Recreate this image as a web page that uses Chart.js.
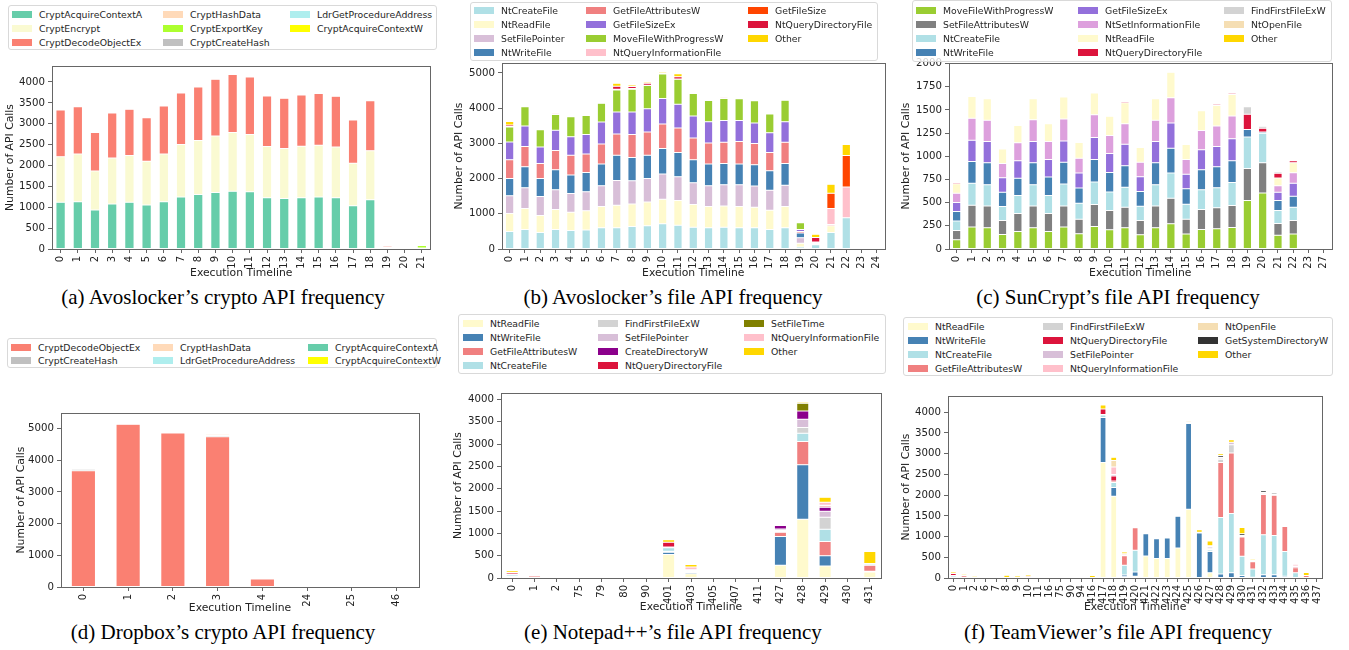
<!DOCTYPE html>
<html lang="en">
<head>
<meta charset="UTF-8">
<title>API call frequency over execution timeline</title>
<style>
  body { margin: 0; width: 1349px; height: 650px; background: #fff; position: relative; overflow: hidden; font-family: "DejaVu Sans", sans-serif; }
  canvas { position: absolute; }
  .legend { position: absolute; box-sizing: border-box; border: 1px solid #d9d9d9; border-radius: 3px; background: rgba(255,255,255,0.8); z-index: 2; }
  .item { position: absolute; height: 14px; display: flex; align-items: center; font-size: 9.3px; color: #262626; white-space: nowrap; }
  .swatch { width: 20px; height: 7px; margin-right: 7px; flex: none; }
  .caption { position: absolute; width: 440px; text-align: center; font-family: "Liberation Serif", serif; font-size: 21px; line-height: 24px; color: #000; white-space: nowrap; }
</style>
<script src="https://cdn.jsdelivr.net/npm/chart.js"></script>
</head>
<body>
<script>
// (a) Avoslocker crypto
const aCategories = ['0','1','2','3','4','5','6','7','8','9','10','11','12','13','14','15','16','17','18','19','20','21'];
const aTicks = [0,500,1000,1500,2000,2500,3000,3500,4000];
const aAcquireA  = [1117,1133,935,1077,1117,1053,1133,1244,1307,1354,1386,1370,1228,1212,1228,1244,1228,1038,1180,35,5,15];
const aEncrypt   = [1093,1140,934,1101,1125,1046,1140,1259,1291,1355,1402,1371,1227,1196,1235,1243,1212,1013,1172,10,0,0];
const aDecode    = [1117,1133,919,1077,1108,1046,1149,1236,1283,1354,1394,1379,1212,1204,1228,1236,1219,1038,1196,30,0,0];
const aHashData  = [0,0,0,0,0,0,0,0,0,0,0,0,0,0,0,0,0,0,0,25,0,10];
const aExportKey = [0,0,0,0,0,0,0,0,0,0,0,0,0,0,0,0,0,0,0,10,0,60];
const aCreateHash= [0,0,0,0,0,0,0,0,0,0,0,0,0,0,0,0,0,0,0,10,0,20];
const aLdr       = [0,0,0,0,0,0,0,0,0,0,0,0,0,0,0,0,0,0,0,5,25,0];
const aAcquireW  = [0,0,0,0,0,0,0,0,0,0,0,0,0,0,0,0,0,0,0,0,0,5];

// (b) Avoslocker file
const bCategories = ['0','1','2','3','4','5','6','7','8','9','10','11','12','13','14','15','16','17','18','19','20','21','22','23','24'];
const bTicks = [0,1000,2000,3000,4000,5000];
const bCreate    = [499,556,471,556,527,537,603,603,640,659,716,678,621,603,621,603,603,556,603,56,120,471,885,0,0];
const bRead      = [509,593,480,565,518,546,602,640,641,678,696,697,641,602,603,602,583,546,602,104,15,188,0,0,0];
const bSetFP     = [508,593,537,565,528,546,593,706,659,669,716,678,621,593,603,622,603,565,603,160,15,0,0,0,0];
const bWrite     = [490,593,518,564,527,546,613,716,659,659,725,687,650,613,602,584,603,555,621,132,20,0,0,0,0];
const bGetAttr   = [527,575,423,547,565,527,574,602,650,659,697,697,621,602,603,640,602,518,603,48,10,38,0,0,0];
const bSizeEx    = [508,583,471,574,527,547,621,622,640,659,725,678,622,603,621,602,584,565,584,56,10,0,0,0,0];
const bMove      = [424,547,490,452,565,546,537,631,650,659,697,706,640,602,622,612,631,527,612,188,0,0,0,0,0];
const bQueryInfo = [15,20,15,30,15,25,15,19,19,10,10,10,15,19,38,19,19,28,15,0,10,452,876,0,0];
const bGetSize   = [0,0,0,0,0,0,0,0,0,0,0,0,0,0,0,0,0,0,0,0,0,433,895,0,0];
const bQueryDir  = [45,15,13,15,13,12,13,84,56,56,10,65,30,0,0,0,0,0,13,10,130,0,0,0,0];
const bOther     = [95,0,0,0,0,0,0,85,47,38,36,85,20,0,0,0,0,0,0,10,90,254,310,0,0];

// (c) SunCrypt file
const cCategories = ['0','1','2','3','4','5','6','7','8','9','10','11','12','13','14','15','16','17','18','19','20','21','22','23','27'];
const cTicks = [0,250,500,750,1000,1250,1500,1750,2000];
const cMove      = [100,236,229,157,190,229,190,236,165,243,208,229,154,229,272,161,211,218,233,522,605,147,161,0,0];
const cSetAttr   = [100,236,236,151,193,236,193,229,157,236,207,222,154,236,275,161,215,226,236,347,325,128,147,0,0];
const cCreate    = [101,236,229,150,193,229,193,236,172,244,200,214,154,229,272,161,214,218,247,340,319,140,143,0,0];
const cWrite     = [103,237,236,154,186,236,200,236,164,243,211,233,157,236,269,168,215,225,236,79,14,107,118,0,0];
const cSizeEx    = [97,229,229,157,190,229,190,229,161,236,204,233,161,229,272,154,215,219,236,0,0,90,139,8,0];
const cSetInfo   = [100,236,229,154,193,236,193,236,161,247,194,221,157,229,271,161,207,221,247,0,0,71,115,0,8];
const cRead      = [104,236,233,157,186,226,193,237,168,233,207,226,158,233,276,161,215,222,232,0,0,83,107,0,0];
const cQueryDir  = [12,10,10,0,11,10,11,10,11,10,11,12,7,10,11,10,11,12,12,165,39,50,22,0,7];
const cFindFirst = [0,0,0,0,0,0,0,0,0,0,0,0,0,0,0,0,0,0,0,82,22,18,0,0,0];
const cOpenFile  = [8,0,0,0,0,0,0,0,0,0,0,0,0,0,0,0,0,0,0,0,0,0,0,0,0];
const cOther     = [10,0,0,0,0,0,0,0,0,0,0,0,0,0,0,0,0,0,0,0,0,0,5,0,0];

// (d) Dropbox crypto
const dCategories = ['0','1','2','3','4','24','25','46'];
const dTicks = [0,1000,2000,3000,4000,5000];
const dDecode     = [3670,5140,4860,4740,250,0,5,0];
const dCreateHash = [50,30,10,40,10,0,0,0];
const dHashData   = [20,20,10,40,0,0,0,0];
const dLdr        = [20,25,10,30,0,0,0,0];
const dAcquireA   = [0,15,25,20,0,0,0,0];
const dAcquireW   = [30,0,0,0,0,0,15,0];

// (e) Notepad++ file
const eCategories = ['0','1','2','75','79','80','90','401','403','405','407','411','427','428','429','430','431'];
const eTicks = [0,500,1000,1500,2000,2500,3000,3500,4000];
const eRead       = [10,0,5,0,0,0,0,528,95,0,0,0,283,1316,268,0,134];
const eWrite      = [5,0,0,0,0,0,0,50,30,0,0,0,646,1219,230,0,15];
const eGetAttr    = [20,45,0,0,10,0,0,20,15,0,0,10,97,521,320,0,134];
const eCreate     = [30,0,0,0,0,0,0,80,20,0,0,0,15,186,275,0,30];
const eFindFirst  = [0,0,0,0,0,0,0,0,0,0,0,0,20,126,268,0,0];
const eSetFP      = [10,0,0,0,0,0,0,15,25,0,0,0,39,186,133,0,10];
const eCreateDir  = [10,0,0,0,10,0,0,0,0,0,0,0,75,186,90,0,0];
const eQueryDir   = [30,5,0,0,5,0,0,110,0,0,0,0,0,0,29,0,0];
const eSetFileTime= [0,0,0,0,0,0,0,0,0,0,0,0,25,171,15,0,0];
const eQueryInfo  = [15,10,0,0,0,0,0,0,60,15,0,5,5,0,67,0,0];
const eOther      = [40,0,15,0,0,0,0,52,55,0,0,0,5,30,112,0,272];

// (f) TeamViewer file
const fCategories = ['0','1','2','6','7','8','9','10','11','16','75','90','94','416','417','418','419','420','421','422','423','424','425','426','427','428','429','430','431','432','433','434','435','436','437'];
const fTicks = [0,500,1000,1500,2000,2500,3000,3500,4000];
const fRead       = [0,0,0,0,0,15,10,0,0,0,0,0,0,10,2790,1976,30,45,534,470,470,725,1657,0,127,0,0,0,0,0,0,0,0,0,0];
const fWrite      = [0,0,0,0,0,0,0,0,0,0,0,0,0,0,1083,207,40,100,534,478,494,765,2070,1084,510,96,127,60,20,80,80,40,15,0,0];
const fCreate     = [50,20,15,0,10,0,0,10,0,0,0,0,0,0,60,120,240,525,7,0,0,0,15,20,40,1362,1427,466,195,964,948,600,110,10,0];
const fGetAttr    = [10,40,0,15,0,0,0,30,20,0,0,0,0,0,15,40,225,540,0,0,0,0,0,0,10,1331,1466,462,175,972,972,605,125,50,0];
const fFindFirst  = [0,0,0,0,0,0,0,0,0,0,0,0,0,0,0,0,0,10,0,0,0,0,15,0,30,80,199,0,0,0,0,0,0,0,0];
const fQueryDir   = [50,10,0,10,0,0,0,0,15,0,0,0,0,0,130,119,0,0,0,0,0,0,0,0,0,0,0,0,0,0,0,0,30,0,0];
const fSetFP      = [0,0,0,0,0,0,0,0,0,0,0,0,0,0,0,35,20,20,0,0,0,0,0,0,40,25,56,20,15,20,15,10,10,0,0];
const fQueryInfo  = [10,10,0,0,0,0,0,0,0,0,0,0,0,0,0,180,30,10,0,0,0,0,0,0,20,20,0,20,20,25,15,10,40,0,0];
const fOpenFile   = [0,0,0,0,0,0,0,0,0,0,0,0,0,0,0,160,0,10,0,0,0,0,30,0,0,0,0,0,0,0,0,0,0,0,0];
const fGetSysDir  = [0,0,0,0,0,0,0,0,0,0,0,0,0,0,0,0,0,5,0,0,0,0,0,0,0,45,0,40,0,45,25,20,15,0,0];
const fOther      = [35,30,30,0,0,50,40,40,25,0,0,0,15,50,95,80,40,5,7,0,0,0,5,60,115,40,64,150,25,0,0,0,5,70,0];

Chart.defaults.font.family = 'DejaVu Sans';
Chart.defaults.color = '#222';

const panels = [
  { rect: [52, 65, 431, 249], yW: 52, xH: 31, yMax: 4380, ticks: aTicks, cats: aCategories,
    series: [['CryptAcquireContextA', aAcquireA, '#66cdaa'], ['CryptEncrypt', aEncrypt, '#fafad2'], ['CryptDecodeObjectEx', aDecode, '#fa8072'],
             ['CryptHashData', aHashData, '#ffdab9'], ['CryptExportKey', aExportKey, '#adff2f'], ['CryptCreateHash', aCreateHash, '#c0c0c0'],
             ['LdrGetProcedureAddress', aLdr, '#afeeee'], ['CryptAcquireContextW', aAcquireW, '#ffff00']],
    legend: { box: [8, 5, 429, 45], rows: 3, cols: [3, 154, 281], y0: 8, dy: 14 },
    caption: ['(a) Avoslocker’s crypto API frequency', 223, 285] },
  { rect: [502, 62, 886, 249], yW: 53, xH: 31, yMax: 5280, ticks: bTicks, cats: bCategories,
    series: [['NtCreateFile', bCreate, '#b0e0e6'], ['NtReadFile', bRead, '#fffacd'], ['SetFilePointer', bSetFP, '#d8bfd8'], ['NtWriteFile', bWrite, '#4682b4'],
             ['GetFileAttributesW', bGetAttr, '#f08080'], ['GetFileSizeEx', bSizeEx, '#9370db'], ['MoveFileWithProgressW', bMove, '#9acd32'], ['NtQueryInformationFile', bQueryInfo, '#ffc0cb'],
             ['GetFileSize', bGetSize, '#ff4500'], ['NtQueryDirectoryFile', bQueryDir, '#dc143c'], ['Other', bOther, '#ffd700']],
    legend: { box: [470, 2, 408, 59], rows: 4, cols: [3, 115, 277], y0: 7, dy: 14.3 },
    caption: ['(b) Avoslocker’s file API frequency', 673, 285] },
  { rect: [949, 62, 1333, 249], yW: 53, xH: 31, yMax: 2005, ticks: cTicks, cats: cCategories,
    series: [['MoveFileWithProgressW', cMove, '#9acd32'], ['SetFileAttributesW', cSetAttr, '#808080'], ['NtCreateFile', cCreate, '#b0e0e6'], ['NtWriteFile', cWrite, '#4682b4'],
             ['GetFileSizeEx', cSizeEx, '#9370db'], ['NtSetInformationFile', cSetInfo, '#dda0dd'], ['NtReadFile', cRead, '#fffacd'], ['NtQueryDirectoryFile', cQueryDir, '#dc143c'],
             ['FindFirstFileExW', cFindFirst, '#d3d3d3'], ['NtOpenFile', cOpenFile, '#f5deb3'], ['Other', cOther, '#ffd700']],
    legend: { box: [912, 0, 420, 62], rows: 4, cols: [3, 165, 311], y0: 9, dy: 14.3 },
    caption: ['(c) SunCrypt’s file API frequency', 1118, 285] },
  { rect: [61, 412, 419, 587], yW: 50, xH: 28, yMax: 5490, ticks: dTicks, cats: dCategories,
    series: [['CryptDecodeObjectEx', dDecode, '#fa8072'], ['CryptCreateHash', dCreateHash, '#c0c0c0'], ['CryptHashData', dHashData, '#ffdab9'],
             ['LdrGetProcedureAddress', dLdr, '#afeeee'], ['CryptAcquireContextA', dAcquireA, '#66cdaa'], ['CryptAcquireContextW', dAcquireW, '#ffff00']],
    legend: { box: [7, 338, 430, 30], rows: 2, cols: [3, 145, 300], y0: 8, dy: 13.3 },
    caption: ['(d) Dropbox’s crypto API frequency', 223, 620] },
  { rect: [501, 392, 881, 578], yW: 53, xH: 36, yMax: 4140, ticks: eTicks, cats: eCategories,
    series: [['NtReadFile', eRead, '#fffacd'], ['NtWriteFile', eWrite, '#4682b4'], ['GetFileAttributesW', eGetAttr, '#f08080'], ['NtCreateFile', eCreate, '#b0e0e6'],
             ['FindFirstFileExW', eFindFirst, '#d3d3d3'], ['SetFilePointer', eSetFP, '#d8bfd8'], ['CreateDirectoryW', eCreateDir, '#8b008b'], ['NtQueryDirectoryFile', eQueryDir, '#dc143c'],
             ['SetFileTime', eSetFileTime, '#808000'], ['NtQueryInformationFile', eQueryInfo, '#ffc0cb'], ['Other', eOther, '#ffd700']],
    legend: { box: [458, 314, 428, 60], rows: 4, cols: [4, 139, 285], y0: 8, dy: 14.3 },
    caption: ['(e) Notepad++’s file API frequency', 673, 620] },
  { rect: [948, 395, 1326, 578], yW: 52, xH: 36, yMax: 4390, ticks: fTicks, cats: fCategories,
    series: [['NtReadFile', fRead, '#fffacd'], ['NtWriteFile', fWrite, '#4682b4'], ['NtCreateFile', fCreate, '#b0e0e6'], ['GetFileAttributesW', fGetAttr, '#f08080'],
             ['FindFirstFileExW', fFindFirst, '#d3d3d3'], ['NtQueryDirectoryFile', fQueryDir, '#dc143c'], ['SetFilePointer', fSetFP, '#d8bfd8'], ['NtQueryInformationFile', fQueryInfo, '#ffc0cb'],
             ['NtOpenFile', fOpenFile, '#f5deb3'], ['GetSystemDirectoryW', fGetSysDir, '#333333'], ['Other', fOther, '#ffd700']],
    legend: { box: [903, 317, 430, 59], rows: 4, cols: [4, 139, 294], y0: 8, dy: 14 },
    caption: ['(f) TeamViewer’s file API frequency', 1118, 620] }
];

// box around the plot area, like matplotlib spines
const frame = {
  id: 'frame',
  afterDraw(chart) {
    const a = chart.chartArea, c = chart.ctx;
    c.save();
    c.strokeStyle = '#666';
    c.lineWidth = 1;
    c.strokeRect(Math.round(a.left) + 0.5, Math.round(a.top) + 0.5, Math.round(a.right - a.left), Math.round(a.bottom - a.top));
    c.restore();
  }
};

function drawLegend(p) {
  const g = p.legend;
  const box = document.createElement('div');
  box.className = 'legend';
  box.style.left = g.box[0] + 'px'; box.style.top = g.box[1] + 'px';
  box.style.width = g.box[2] + 'px'; box.style.height = g.box[3] + 'px';
  p.series.forEach((s, i) => {
    const col = Math.floor(i / g.rows), row = i % g.rows;
    const it = document.createElement('div');
    it.className = 'item';
    it.style.left = g.cols[col] + 'px';
    it.style.top = (g.y0 + row * g.dy - 7) + 'px';
    it.innerHTML = '<span class="swatch" style="background:' + s[2] + '"></span>' + s[0];
    box.appendChild(it);
  });
  document.body.appendChild(box);
}

function drawPanel(p) {
  const [L, T, R, B] = p.rect;
  const padT = 8, padR = 6;
  const w = R - L + p.yW + padR, h = B - T + padT + p.xH;
  const cv = document.createElement('canvas');
  cv.width = w; cv.height = h;
  cv.style.left = (L - p.yW) + 'px'; cv.style.top = (T - padT) + 'px';
  cv.style.width = w + 'px'; cv.style.height = h + 'px';
  document.body.appendChild(cv);

  new Chart(cv, {
    type: 'bar',
    data: {
      labels: p.cats,
      datasets: p.series.map(s => ({
        label: s[0], data: s[1], backgroundColor: s[2],
        borderColor: 'rgba(255,255,255,0.5)', borderWidth: 0.5, borderSkipped: false,
        categoryPercentage: 0.54, barPercentage: 1
      }))
    },
    options: {
      responsive: false,
      animation: false,
      layout: { padding: { left: 0, top: padT, right: padR, bottom: 0 }, autoPadding: false },
      plugins: { legend: { display: false }, tooltip: { enabled: false } },
      scales: {
        x: {
          stacked: true,
          grid: { offset: false, drawOnChartArea: false, tickLength: 4, color: '#666' },
          border: { color: '#666' },
          ticks: { autoSkip: false, minRotation: 90, maxRotation: 90, padding: 3, font: { size: 10 } },
          title: { display: true, text: 'Execution Timeline', font: { size: 10.8 }, padding: { top: 0, bottom: 0 } },
          afterFit: s => { s.height = p.xH; }
        },
        y: {
          stacked: true, min: 0, max: p.yMax,
          grid: { drawOnChartArea: false, tickLength: 4, color: '#666' },
          border: { color: '#666' },
          ticks: { padding: 3, font: { size: 10.2 }, callback: v => String(v) },
          afterBuildTicks: s => { s.ticks = p.ticks.map(v => ({ value: v })); },
          title: { display: true, text: 'Number of API Calls', font: { size: 10.8 }, padding: { top: 4, bottom: 0 } },
          afterFit: s => { s.width = p.yW; }
        }
      }
    },
    plugins: [frame]
  });

  drawLegend(p);

  const cap = document.createElement('div');
  cap.className = 'caption';
  cap.textContent = p.caption[0];
  cap.style.left = (p.caption[1] - 220) + 'px';
  cap.style.top = p.caption[2] + 'px';
  document.body.appendChild(cap);
}

panels.forEach(drawPanel);
</script>
</body>
</html>
